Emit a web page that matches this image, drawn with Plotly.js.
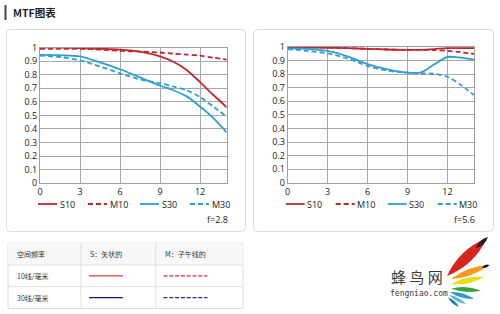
<!DOCTYPE html>
<html><head><meta charset="utf-8">
<script src="https://cdn.plot.ly/plotly-3.0.1.min.js"></script>
<style>html,body{margin:0;padding:0;background:#fff}#chart{width:500px;height:314px}</style>
</head><body><div id="chart"></div>
<script>
// ---- data ----
const freq = [0, 1.5, 3, 4.5, 6, 7.5, 9, 10, 11, 12, 13, 14];
const s10_f28 = [1.0, 1.0, 0.995, 0.99, 0.985, 0.97, 0.935, 0.895, 0.835, 0.745, 0.65, 0.56];
const m10_f28 = [0.99, 0.99, 0.99, 0.985, 0.975, 0.97, 0.963, 0.955, 0.948, 0.94, 0.925, 0.91];
const s30_f28 = [0.945, 0.943, 0.935, 0.89, 0.84, 0.78, 0.72, 0.685, 0.64, 0.565, 0.48, 0.375];
const m30_f28 = [0.94, 0.93, 0.905, 0.86, 0.81, 0.765, 0.737, 0.712, 0.685, 0.635, 0.565, 0.49];
const s10_f56 = [0.995, 0.995, 0.993, 0.99, 0.985, 0.98, 0.977, 0.978, 0.983, 0.99, 0.99, 0.99];
const m10_f56 = [1.0, 0.998, 0.995, 0.99, 0.985, 0.98, 0.977, 0.977, 0.976, 0.97, 0.96, 0.948];
const s30_f56 = [0.988, 0.985, 0.97, 0.93, 0.873, 0.834, 0.81, 0.812, 0.87, 0.925, 0.92, 0.905];
const m30_f56 = [0.983, 0.97, 0.951, 0.915, 0.858, 0.824, 0.81, 0.805, 0.802, 0.78, 0.72, 0.645];
const xTickVals = [0, 3, 6, 9, 12];
const yTickVals = [0, 0.1, 0.2, 0.3, 0.4, 0.5, 0.6, 0.7, 0.8, 0.9, 1];
const yTickText = ['0', '0.1', '0.2', '0.3', '0.4', '0.5', '0.6', '0.7', '0.8', '0.9', '1'];
const seriesNames = ['S10', 'M10', 'S30', 'M30'];
const apertures = ['f=2.8', 'f=5.6'];
const pageTitle = 'MTF图表';
const tableHeader = ['空间频率', 'S：矢状的', 'M：子午线的'];
const tableRows = ['10线/毫米', '30线/毫米'];
const logoText = '蜂 鸟 网';
const logoUrl = 'fengniao.com';

// ---- helpers ----
const W = 500, H = 314;
const px = x => x / W, py = y => 1 - y / H;
const RED = '#c1272d', BLUE = '#2f9ed3';
const styles = [
  {color: RED, dash: 'solid'}, {color: RED, dash: '5px,3px'},
  {color: BLUE, dash: 'solid'}, {color: BLUE, dash: '5px,3px'}
];
const FONT = 'Open Sans, Noto Sans, sans-serif';
const CJK = 'Noto Sans CJK SC, sans-serif';

const panels = [
  {xa: 'x', ya: 'y', data: [s10_f28, m10_f28, s30_f28, m30_f28], left: 40, right: 226.7, top: 47.5, bottom: 183.3, box: [6.5, 29.5, 245.5, 231.5]},
  {xa: 'x2', ya: 'y2', data: [s10_f56, m10_f56, s30_f56, m30_f56], left: 287.7, right: 474, top: 46.8, bottom: 182.8, box: [253.5, 29.5, 493.5, 231.5]}
];

const traces = [];
panels.forEach(p => {
  p.data.forEach((vals, i) => {
    traces.push({
      type: 'scatter', mode: 'lines', x: freq, y: vals, name: seriesNames[i],
      xaxis: p.xa, yaxis: p.ya, showlegend: false, hoverinfo: 'skip',
      line: {color: styles[i].color, dash: styles[i].dash, width: 1.8, shape: 'spline', smoothing: 0.8}
    });
  });
});

function roundRect(x0, y0, x1, y1, r) {
  const P = (x, y) => px(x) + ',' + py(y);
  return 'M' + P(x0 + r, y0) + ' L' + P(x1 - r, y0) + ' Q' + P(x1, y0) + ' ' + P(x1, y0 + r) +
    ' L' + P(x1, y1 - r) + ' Q' + P(x1, y1) + ' ' + P(x1 - r, y1) +
    ' L' + P(x0 + r, y1) + ' Q' + P(x0, y1) + ' ' + P(x0, y1 - r) +
    ' L' + P(x0, y0 + r) + ' Q' + P(x0, y0) + ' ' + P(x0 + r, y0) + ' Z';
}
function lens(x1, y1, x2, y2, w) {
  const mx = (x1 + x2) / 2, my = (y1 + y2) / 2;
  const dx = x2 - x1, dy = y2 - y1, L = Math.hypot(dx, dy);
  const nx = -dy / L * 2 * w, ny = dx / L * 2 * w;
  const P = (x, y) => px(x) + ',' + py(y);
  return 'M' + P(x1, y1) + ' Q' + P(mx + nx, my + ny) + ' ' + P(x2, y2) + ' Q' + P(mx - nx, my - ny) + ' ' + P(x1, y1) + ' Z';
}

const shapes = [];
const annotations = [];
// page title
shapes.push({type: 'rect', xref: 'paper', yref: 'paper', x0: px(4.5), x1: px(6.5), y0: py(20), y1: py(5), fillcolor: '#444', line: {width: 0}});
annotations.push({xref: 'paper', yref: 'paper', x: px(11), y: py(13), xanchor: 'left', yanchor: 'middle', showarrow: false,
  text: '<b>' + pageTitle + '</b>', font: {family: CJK, size: 10.5, color: '#222'}});

panels.forEach((p, k) => {
  const b = p.box;
  shapes.push({type: 'path', xref: 'paper', yref: 'paper', path: roundRect(b[0], b[1], b[2], b[3], 4), line: {color: '#dcdcdc', width: 1}, fillcolor: 'rgba(0,0,0,0)', layer: 'below'});
  // legend
  const offs = [-2, 48, 100, 150];
  const ly = 204;
  seriesNames.forEach((n, i) => {
    const sx = p.left + offs[i];
    shapes.push({type: 'line', xref: 'paper', yref: 'paper', x0: px(sx), x1: px(sx + 19), y0: py(ly), y1: py(ly),
      line: {color: styles[i].color, dash: styles[i].dash, width: 1.8}});
    annotations.push({xref: 'paper', yref: 'paper', x: px(sx + 19.5), y: py(ly), xanchor: 'left', yanchor: 'middle', showarrow: false,
      text: n, font: {family: FONT, size: 9, color: '#222'}});
  });
  annotations.push({xref: 'paper', yref: 'paper', x: px(p.right + 3), y: py(219.5), xanchor: 'right', yanchor: 'middle', showarrow: false,
    text: apertures[k], font: {family: FONT, size: 9, color: '#222'}});
});

// table
const TL = 8, TR = 243, TT = 243, TB = 308.5;
const colX = [TL, 81, 155.7, TR];
const rowY = [TT, 265, 286.7, TB];
shapes.push({type: 'rect', xref: 'paper', yref: 'paper', x0: px(TL), x1: px(TR), y0: py(TB), y1: py(TT), line: {color: '#e0e0e0', width: 1}, fillcolor: '#ffffff', layer: 'below'});
shapes.push({type: 'rect', xref: 'paper', yref: 'paper', x0: px(TL), x1: px(TR), y0: py(rowY[1]), y1: py(TT), line: {width: 0}, fillcolor: '#f8f8f8', layer: 'below'});
[colX[1], colX[2]].forEach(x => shapes.push({type: 'line', xref: 'paper', yref: 'paper', x0: px(x), x1: px(x), y0: py(TB), y1: py(TT), line: {color: '#e0e0e0', width: 1}}));
[rowY[1], rowY[2]].forEach(y => shapes.push({type: 'line', xref: 'paper', yref: 'paper', x0: px(TL), x1: px(TR), y0: py(y), y1: py(y), line: {color: '#e0e0e0', width: 1}}));
tableHeader.forEach((t, i) => annotations.push({xref: 'paper', yref: 'paper', x: px(colX[i] + 7), y: py(254), xanchor: 'left', yanchor: 'middle', showarrow: false,
  text: t, font: {family: CJK, size: 7, color: '#333'}}));
const tableLineColors = [['#e0403d', '#d32f2f'], ['#14148a', '#2b2bb0']];
tableRows.forEach((t, r) => {
  const yc = (rowY[r + 1] + rowY[r + 2]) / 2;
  annotations.push({xref: 'paper', yref: 'paper', x: px(colX[0] + 7), y: py(yc), xanchor: 'left', yanchor: 'middle', showarrow: false,
    text: t, font: {family: CJK, size: 7, color: '#333'}});
  shapes.push({type: 'line', xref: 'paper', yref: 'paper', x0: px(89), x1: px(123), y0: py(yc), y1: py(yc), line: {color: tableLineColors[r][0], width: 1.3}});
  shapes.push({type: 'line', xref: 'paper', yref: 'paper', x0: px(163.5), x1: px(207.5), y0: py(yc), y1: py(yc), line: {color: tableLineColors[r][1], width: 1.3, dash: '4px,1.8px'}});
});

// watermark logo
annotations.push({xref: 'paper', yref: 'paper', x: px(389), y: py(276.5), xanchor: 'left', yanchor: 'middle', showarrow: false,
  text: logoText, font: {family: CJK, size: 15, color: '#3a3a3a'}});
annotations.push({xref: 'paper', yref: 'paper', x: px(388), y: py(293), xanchor: 'left', yanchor: 'middle', showarrow: false,
  text: logoUrl, font: {family: 'DejaVu Sans Mono, monospace', size: 8, color: '#3a3a3a'}});
const feathers = [
  [447, 276, 487, 238, 5.5, '#d7261e'],
  [476, 248, 488, 237, 2.2, '#2a1a1a'],
  [451, 279, 489, 265, 3.2, '#f29b1d'],
  [482, 267.5, 489.5, 265, 1.6, '#2a1a1a'],
  [451, 284, 484, 277, 2.8, '#f0d91b'],
  [451, 288.5, 481, 290.5, 2.5, '#36a23a'],
  [450, 292, 474, 299, 2.2, '#2b9ad3'],
  [449, 295, 466, 304, 1.8, '#58b7e6'],
  [448, 297.5, 459, 307, 1.5, '#2a7a9a']
];
feathers.forEach(f => shapes.push({type: 'path', xref: 'paper', yref: 'paper', path: lens(f[0], f[1], f[2], f[3], f[4]), fillcolor: f[5], line: {width: 0}}));

function xAxis(p, anchor) {
  return {domain: [px(p.left), px(p.right)], anchor: anchor, range: [0, 14], tickvals: xTickVals, ticktext: xTickVals.map(String),
    showgrid: true, gridcolor: '#a8a8a8', gridwidth: 1, showline: true, linecolor: '#a0a0a0', linewidth: 1, mirror: true,
    zeroline: false, ticks: '', ticklabelstandoff: 0, tickfont: {family: FONT, size: 9, color: '#222'}, fixedrange: true};
}
function yAxis(p, anchor) {
  return {domain: [py(p.bottom), py(p.top)], anchor: anchor, range: [0, 1], tickvals: yTickVals, ticktext: yTickText,
    showgrid: true, gridcolor: '#a8a8a8', gridwidth: 1, showline: true, linecolor: '#a0a0a0', linewidth: 1, mirror: true,
    zeroline: false, ticks: '', tickfont: {family: FONT, size: 9, color: '#222'}, fixedrange: true};
}

const layout = {
  width: W, height: H, margin: {l: 0, r: 0, t: 0, b: 0},
  paper_bgcolor: '#ffffff', plot_bgcolor: '#ffffff', showlegend: false,
  xaxis: xAxis(panels[0], 'y'), yaxis: yAxis(panels[0], 'x'),
  xaxis2: xAxis(panels[1], 'y2'), yaxis2: yAxis(panels[1], 'x2'),
  shapes: shapes, annotations: annotations
};

Plotly.newPlot('chart', traces, layout, {staticPlot: true, displayModeBar: false});
</script>
</body></html>
